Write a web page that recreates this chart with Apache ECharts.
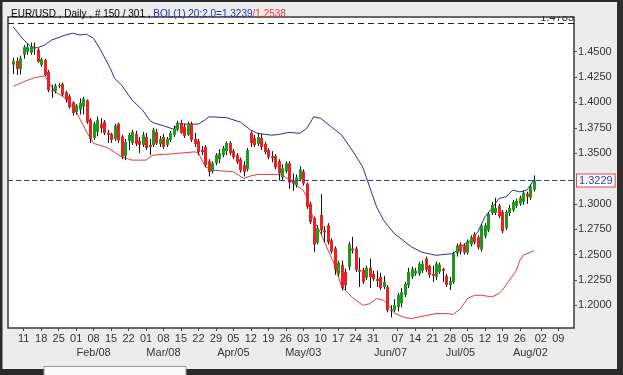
<!DOCTYPE html>
<html><head><meta charset="utf-8">
<script src="https://cdn.jsdelivr.net/npm/echarts@6/dist/echarts.min.js"></script>
<style>html,body{margin:0;padding:0;background:#ededed;}#c{width:623px;height:375px;}</style>
</head><body><div id="c"></div>
<script>
// ---------- data ----------
const YEAR = '2010';
const axisFirstSlot = '2010-01-05', axisLastSlot = '2010-08-18';
const firstBar = '2010-01-06', lastBar = '2010-08-03';

const open = [1.4374,1.4410,1.4330,1.4470,1.4500,1.4490,1.4545,1.4520,1.4370,1.4420,
1.4300,1.4120,1.4110,1.4165,1.4180,1.4100,1.4060,1.4000,1.3905,1.3930,
1.3960,1.4020,1.3830,1.3650,1.3710,1.3790,1.3810,1.3700,1.3690,1.3640,
1.3790,1.3665,1.3470,1.3620,1.3600,1.3690,1.3620,1.3580,1.3660,1.3580,
1.3580,1.3710,1.3590,1.3660,1.3580,1.3630,1.3680,1.3730,1.3800,1.3760,
1.3680,1.3790,1.3640,1.3620,1.3530,1.3560,1.3420,1.3320,1.3400,1.3440,
1.3480,1.3520,1.3600,1.3520,1.3480,1.3440,1.3380,1.3340,1.3700,1.3650,
1.3590,1.3650,1.3590,1.3530,1.3470,1.3470,1.3420,1.3260,1.3320,1.3400,
1.3230,1.3185,1.3240,1.3320,1.3200,1.3000,1.2860,1.2620,1.2890,1.2740,
1.2790,1.2640,1.2560,1.2310,1.2400,1.2330,1.2380,1.2560,1.2560,1.2350,
1.2350,1.2270,1.2370,1.2310,1.2260,1.2280,1.2180,1.2180,1.1955,1.1950,
1.1980,1.2020,1.2100,1.2200,1.2280,1.2310,1.2310,1.2340,1.2460,1.2390,
1.2310,1.2280,1.2330,1.2360,1.2290,1.2200,1.2230,1.2510,1.2600,1.2590,
1.2520,1.2600,1.2700,1.2670,1.2550,1.2680,1.2740,1.2910,1.2910,1.2980,
1.2920,1.2760,1.2910,1.2940,1.2980,1.3000,1.3020,1.3100,1.3060,1.3140];
const close = [1.4410,1.4330,1.4435,1.4545,1.4545,1.4550,1.4530,1.4400,1.4425,1.4270,
1.4120,1.4110,1.4165,1.4170,1.4075,1.4025,1.3955,1.3895,1.3970,1.3995,
1.4035,1.3805,1.3640,1.3790,1.3825,1.3745,1.3695,1.3680,1.3630,1.3770,
1.3625,1.3465,1.3610,1.3680,1.3710,1.3590,1.3580,1.3680,1.3550,1.3560,
1.3730,1.3595,1.3640,1.3560,1.3640,1.3700,1.3745,1.3800,1.3700,1.3670,
1.3790,1.3630,1.3590,1.3510,1.3510,1.3380,1.3315,1.3400,1.3480,1.3500,
1.3550,1.3600,1.3500,1.3460,1.3410,1.3330,1.3315,1.3530,1.3600,1.3580,
1.3660,1.3560,1.3510,1.3460,1.3450,1.3360,1.3300,1.3350,1.3400,1.3210,
1.3200,1.3260,1.3340,1.3200,1.2970,1.2820,1.2600,1.2760,1.2740,1.2720,
1.2620,1.2530,1.2350,1.2420,1.2170,1.2200,1.2600,1.2540,1.2350,1.2330,
1.2230,1.2370,1.2280,1.2260,1.2240,1.2170,1.2230,1.1950,1.1950,1.2000,
1.2100,1.2130,1.2210,1.2330,1.2360,1.2340,1.2410,1.2410,1.2350,1.2300,
1.2290,1.2410,1.2400,1.2340,1.2200,1.2240,1.2510,1.2590,1.2530,1.2520,
1.2630,1.2670,1.2620,1.2570,1.2780,1.2790,1.2900,1.2990,1.2960,1.2880,
1.2730,1.2920,1.2960,1.3020,1.3030,1.3060,1.3110,1.3070,1.3170,1.3229];
const low = [1.4280,1.4270,1.4275,1.4430,1.4470,1.4470,1.4470,1.4390,1.4350,1.4260,
1.4100,1.4045,1.4090,1.4140,1.4060,1.4000,1.3940,1.3870,1.3880,1.3880,
1.3880,1.3790,1.3600,1.3630,1.3665,1.3700,1.3680,1.3600,1.3600,1.3620,
1.3600,1.3440,1.3430,1.3530,1.3580,1.3570,1.3500,1.3560,1.3530,1.3480,
1.3560,1.3580,1.3560,1.3540,1.3560,1.3610,1.3660,1.3715,1.3690,1.3650,
1.3670,1.3610,1.3560,1.3480,1.3480,1.3360,1.3270,1.3300,1.3380,1.3400,
1.3460,1.3480,1.3480,1.3440,1.3390,1.3310,1.3270,1.3320,1.3560,1.3560,
1.3570,1.3530,1.3490,1.3440,1.3410,1.3340,1.3230,1.3230,1.3300,1.3150,
1.3130,1.3160,1.3220,1.3180,1.2950,1.2800,1.2525,1.2600,1.2700,1.2620,
1.2600,1.2510,1.2300,1.2290,1.2145,1.2150,1.2345,1.2510,1.2330,1.2180,
1.2210,1.2250,1.2170,1.2240,1.2180,1.2150,1.2160,1.1930,1.1880,1.1935,
1.1940,1.1980,1.2080,1.2170,1.2260,1.2290,1.2290,1.2320,1.2330,1.2270,
1.2230,1.2250,1.2310,1.2230,1.2180,1.2150,1.2210,1.2480,1.2500,1.2500,
1.2500,1.2580,1.2600,1.2550,1.2530,1.2660,1.2720,1.2890,1.2890,1.2860,
1.2710,1.2740,1.2880,1.2920,1.2960,1.2980,1.2990,1.3000,1.3040,1.3120];
const high = [1.4440,1.4445,1.4460,1.4565,1.4580,1.4590,1.4590,1.4535,1.4440,1.4430,
1.4320,1.4175,1.4185,1.4190,1.4195,1.4115,1.4080,1.4010,1.3985,1.4040,
1.4055,1.4030,1.3845,1.3810,1.3860,1.3845,1.3825,1.3730,1.3700,1.3790,
1.3800,1.3680,1.3640,1.3700,1.3730,1.3720,1.3660,1.3710,1.3700,1.3640,
1.3750,1.3740,1.3670,1.3690,1.3660,1.3720,1.3770,1.3820,1.3830,1.3790,
1.3810,1.3810,1.3700,1.3640,1.3570,1.3580,1.3440,1.3420,1.3500,1.3540,
1.3570,1.3615,1.3620,1.3540,1.3500,1.3455,1.3420,1.3550,1.3715,1.3680,
1.3700,1.3690,1.3610,1.3550,1.3520,1.3490,1.3440,1.3390,1.3420,1.3420,
1.3300,1.3290,1.3370,1.3340,1.3210,1.3020,1.2875,1.2790,1.3095,1.2780,
1.2810,1.2660,1.2580,1.2440,1.2440,1.2360,1.2625,1.2675,1.2580,1.2470,
1.2370,1.2390,1.2460,1.2340,1.2340,1.2320,1.2290,1.2200,1.2000,1.2060,
1.2120,1.2170,1.2230,1.2370,1.2380,1.2370,1.2430,1.2440,1.2480,1.2400,
1.2390,1.2430,1.2420,1.2370,1.2310,1.2280,1.2530,1.2610,1.2620,1.2610,
1.2650,1.2690,1.2720,1.2690,1.2800,1.2810,1.2920,1.3020,1.3060,1.3000,
1.2940,1.2940,1.2990,1.3040,1.3050,1.3080,1.3130,1.3120,1.3190,1.3280];

// Bollinger bands (20; 2.0), [MM-DD, value]
const upperBand = [['01-06',1.4744],['01-11',1.4615],['01-13',1.4549],['01-15',1.4539],['01-19',1.4566],['01-21',1.4615],['01-27',1.4665],['01-29',1.4682],['02-02',1.4665],['02-04',1.4672],['02-08',1.4632],['02-10',1.4517],['02-15',1.4320],['02-16',1.4238],['02-18',1.4171],['02-23',1.4023],['02-26',1.3925],['03-02',1.3826],['03-03',1.3800],['03-08',1.3770],['03-11',1.3734],['03-12',1.3790],['03-17',1.3786],['03-22',1.3786],['03-24',1.3830],['03-25',1.3858],['04-01',1.3850],['04-07',1.3806],['04-12',1.3727],['04-14',1.3694],['04-20',1.3677],['04-22',1.3684],['04-27',1.3705],['04-30',1.3695],['05-04',1.3744],['05-06',1.3858],['05-10',1.3843],['05-13',1.3760],['05-18',1.3678],['05-21',1.3530],['05-26',1.3365],['05-28',1.3168],['06-01',1.2970],['06-03',1.2839],['06-08',1.2708],['06-15',1.2575],['06-18',1.2523],['06-24',1.2493],['07-01',1.2510],['07-05',1.2575],['07-08',1.2642],['07-12',1.2723],['07-14',1.2872],['07-16',1.2954],['07-20',1.3053],['07-22',1.3069],['07-26',1.3135],['07-28',1.3118],['07-30',1.3135],['08-02',1.3184],['08-03',1.3239]];
const lowerBand = [['01-06',1.4158],['01-11',1.4204],['01-14',1.4243],['01-19',1.4262],['01-22',1.4105],['01-27',1.4040],['02-01',1.3908],['02-04',1.3710],['02-08',1.3596],['02-12',1.3554],['02-18',1.3464],['02-23',1.3431],['03-01',1.3431],['03-03',1.3480],['03-12',1.3497],['03-19',1.3513],['03-22',1.3500],['03-24',1.3365],['03-26',1.3332],['04-05',1.3316],['04-08',1.3250],['04-12',1.3276],['04-14',1.3290],['04-21',1.3290],['04-23',1.3285],['04-27',1.3234],['05-03',1.3135],['05-04',1.3069],['05-06',1.2839],['05-10',1.2711],['05-14',1.2395],['05-18',1.2181],['05-21',1.2079],['05-26',1.2000],['05-28',1.2015],['06-01',1.2066],['06-03',1.2049],['06-07',1.1980],['06-08',1.1924],['06-11',1.1879],['06-15',1.1869],['06-18',1.1891],['06-24',1.1918],['06-29',1.1918],['07-01',1.1911],['07-05',1.1967],['07-07',1.2066],['07-09',1.2099],['07-13',1.2099],['07-16',1.2082],['07-20',1.2115],['07-21',1.2148],['07-23',1.2247],['07-27',1.2345],['07-28',1.2444],['07-29',1.2493],['08-02',1.2523],['08-03',1.2538]];

const lastPrice = 1.3229;
const topLine = 1.4783;
const bandUpperLast = '1.3239', bandLowerLast = '1.2538';
const yTickValues = [1.2000,1.2250,1.2500,1.2750,1.3000,1.3500,1.3750,1.4000,1.4250,1.4500];
const yMin = 1.1776, yMax = 1.4842;
const firstDayTick = '2010-01-11', lastDayTick = '2010-08-09';
const dayLabelLag = [['2010-06-07', 2], ['2010-08-02', 3]]; // label drift seen in the source
const monthTicks = ['2010-02-08','2010-03-08','2010-04-05','2010-05-03','2010-06-07','2010-07-05','2010-08-02'];
const monthNames = ['Jan','Feb','Mar','Apr','May','Jun','Jul','Aug','Sep','Oct','Nov','Dec'];

// ---------- build ----------
function weekdaysBetween(a, b) {
  const out = [];
  for (let t = Date.parse(a + 'T00:00:00Z'); t <= Date.parse(b + 'T00:00:00Z'); t += 864e5) {
    const d = new Date(t), wd = d.getUTCDay();
    if (wd !== 0 && wd !== 6) out.push(d.toISOString().slice(0, 10));
  }
  return out;
}
const slots = weekdaysBetween(axisFirstSlot, axisLastSlot);
const barDates = weekdaysBetween(firstBar, lastBar);
const candleData = barDates.map((d, i) => [d, open[i], close[i], low[i], high[i]]);
const toPairs = arr => arr.map(p => [YEAR + '-' + p[0], p[1]]);

const dayText = {};
slots.forEach((d, idx) => {
  if (new Date(d + 'T00:00:00Z').getUTCDay() === 1 && d >= firstDayTick && d <= lastDayTick) {
    let lag = 0;
    dayLabelLag.forEach(l => { if (d >= l[0]) lag = l[1]; });
    dayText[idx + lag] = d.slice(8, 10);
  }
});
const monthText = {};
monthTicks.forEach(d => {
  const idx = slots.indexOf(d);
  monthText[idx] = monthNames[+d.slice(5, 7) - 1] + '/' + d.slice(8, 10);
});

const GREEN = '#1f9a1f', RED = '#ec2222', WICK = '#111';
const FONT = 'Liberation Sans';
const PRICE_BLUE = '#2a3ad0';

const chart = echarts.init(document.getElementById('c'), null, {renderer: 'canvas'});
chart.setOption({
  animation: false,
  backgroundColor: '#ececec',
  title: {
    left: 6, top: 4, z: 20,
    text: '{k|EUR/USD , Daily , # 150 / 301 , }{b|BOL(1) 20;2.0=' + bandUpperLast + '}{r|/' + bandLowerLast + '}',
    textStyle: {
      fontFamily: FONT, fontSize: 10, fontWeight: 'normal',
      rich: {
        k: {color: '#000', fontFamily: FONT, fontSize: 10},
        b: {color: '#2a2ab8', fontFamily: FONT, fontSize: 10},
        r: {color: '#e23a3a', fontFamily: FONT, fontSize: 10}
      }
    }
  },
  graphic: {elements: [
    {type: 'rect', z: 10, shape: {x: 0, y: 0, width: 623, height: 16}, style: {fill: '#ececec'}},
    {type: 'rect', z: 11, shape: {x: 0, y: 0, width: 623, height: 2}, style: {fill: '#2a2a2a'}},
    {type: 'rect', z: 11, shape: {x: 0, y: 0, width: 2.5, height: 375}, style: {fill: '#2a2a2a'}},
    {type: 'rect', z: 11, shape: {x: 617, y: 0, width: 6, height: 375}, style: {fill: '#2e2e2e'}},
    {type: 'rect', z: 11, shape: {x: 0, y: 369, width: 623, height: 6}, style: {fill: '#2a2a2a'}},
    {type: 'rect', z: 12, shape: {x: 44, y: 366.5, width: 142, height: 9}, style: {fill: '#fafafa', stroke: '#9a9a9a', lineWidth: 1}}
  ]},
  grid: {left: 8, right: 49, top: 17, bottom: 47, show: true, backgroundColor: '#ffffff', borderColor: '#3a3a3a', borderWidth: 1.5},
  xAxis: [
    {
      type: 'category', data: slots, boundaryGap: true,
      axisLine: {show: false}, axisTick: {show: false}, splitLine: {show: false},
      axisLabel: {
        interval: (idx) => monthText[idx] !== undefined,
        formatter: (v, idx) => monthText[idx] || '',
        margin: 19, color: '#333', fontFamily: FONT, fontSize: 11
      }
    },
    {
      type: 'category', data: slots, boundaryGap: true, position: 'bottom',
      axisLine: {show: false}, splitLine: {show: false},
      axisTick: {show: true, alignWithLabel: true, interval: (idx) => dayText[idx] !== undefined, length: 3, lineStyle: {color: '#444'}},
      axisLabel: {
        interval: (idx) => dayText[idx] !== undefined,
        formatter: (v, idx) => dayText[idx] || '',
        margin: 5, color: '#333', fontFamily: FONT, fontSize: 11
      }
    }
  ],
  yAxis: {
    type: 'value', position: 'right', min: yMin, max: yMax, scale: true,
    axisLine: {show: false}, splitLine: {show: false},
    axisTick: {show: true, customValues: yTickValues, length: 3, lineStyle: {color: '#8a3a3a'}},
    axisLabel: {customValues: yTickValues, formatter: v => v.toFixed(4), margin: 4, color: '#333', fontFamily: FONT, fontSize: 11}
  },
  series: [
    {
      type: 'line', name: 'upper', xAxisIndex: 0, data: toPairs(upperBand), showSymbol: false, symbol: 'none',
      lineStyle: {color: '#2e2e98', width: 1}, z: 3, silent: true
    },
    {
      type: 'line', name: 'lower', xAxisIndex: 0, data: toPairs(lowerBand), showSymbol: false, symbol: 'none',
      lineStyle: {color: '#e23c3c', width: 1}, z: 3, silent: true
    },
    {
      type: 'line', name: 'last price', xAxisIndex: 0, data: [], color: PRICE_BLUE, z: 3, silent: true,
      markLine: {
        silent: true, symbol: ['none', 'none'], animation: false, precision: 4,
        lineStyle: {color: PRICE_BLUE, type: [5, 3], width: 1, opacity: 1},
        data: [{
          yAxis: lastPrice,
          label: {position: 'end', distance: 3, formatter: lastPrice.toFixed(4), color: '#2a3cb4', fontFamily: FONT, fontSize: 11,
                  backgroundColor: '#ffffff', borderColor: '#e04848', borderWidth: 1, padding: [1, 2, 0, 2]}
        }]
      }
    },
    {
      type: 'line', name: 'top', xAxisIndex: 0, data: [], color: '#222222', z: 3, silent: true,
      markLine: {
        silent: true, symbol: ['none', 'none'], animation: false, precision: 4,
        lineStyle: {color: '#222222', type: [6, 4], width: 1, opacity: 1},
        data: [{
          yAxis: topLine,
          label: {position: 'insideEndTop', distance: 0, formatter: topLine.toFixed(4), color: '#333', fontFamily: FONT, fontSize: 11}
        }]
      }
    },
    {
      type: 'custom', name: 'EUR/USD', xAxisIndex: 0, data: candleData, clip: true, z: 4,
      encode: {x: 0, y: [1, 2, 3, 4]},
      renderItem: function (params, api) {
        const xi = api.value(0);
        const pO = api.coord([xi, api.value(1)]);
        const pC = api.coord([xi, api.value(2)]);
        const pL = api.coord([xi, api.value(3)]);
        const pH = api.coord([xi, api.value(4)]);
        const up = api.value(2) >= api.value(1);
        const xc = Math.round(pO[0]) + 0.5;
        const top = Math.min(pO[1], pC[1]);
        const bh = Math.max(Math.abs(pO[1] - pC[1]), 1);
        return {type: 'group', children: [
          {type: 'line', shape: {x1: xc, y1: pH[1], x2: xc, y2: pL[1]}, style: {stroke: WICK, lineWidth: 1}},
          {type: 'rect', shape: {x: xc - 1.5, y: top, width: 3, height: bh}, style: {fill: up ? GREEN : RED}}
        ]};
      }
    }
  ]
});
</script></body></html>
